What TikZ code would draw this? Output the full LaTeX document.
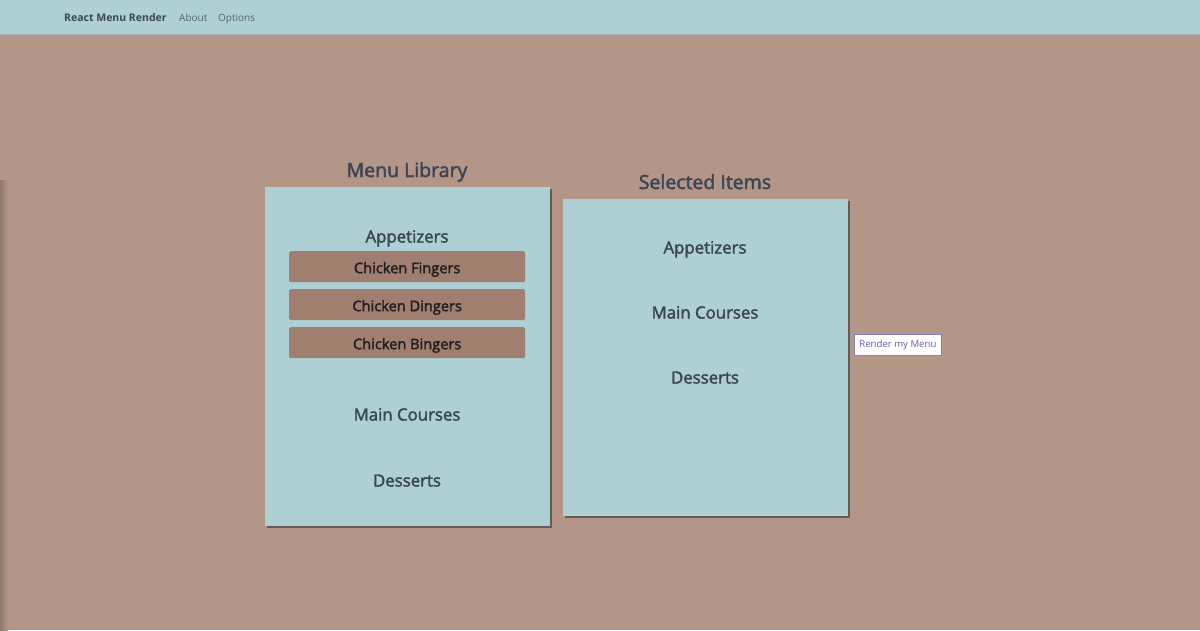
\documentclass[tikz,border=0pt]{standalone}
\usepackage{fontspec}
\setmainfont{Open Sans}
\newfontfamily\semib[FakeBold=2.2]{Open Sans}
\usetikzlibrary{shadows}
\definecolor{bg}{HTML}{B39688}
\definecolor{nav}{HTML}{AED0D5}
\definecolor{navline}{HTML}{A8B4B4}
\definecolor{panel}{HTML}{AED0D5}
\definecolor{item}{HTML}{A07E70}
\definecolor{head}{HTML}{3A4555}
\definecolor{navtext}{HTML}{55616E}
\definecolor{btnborder}{HTML}{8A7FB8}
\definecolor{btntext}{HTML}{6A5BB0}
\begin{document}
\begin{tikzpicture}[x=1pt,y=-1pt,
  panelbox/.style={draw=none,fill=panel,anchor=north west,inner sep=0,
    drop shadow={shadow xshift=2pt,shadow yshift=-2pt,opacity=0.6,fill=black!80}},
  title/.style={text=head,anchor=base,inner sep=0,font=\semib\fontsize{19.5}{22}\selectfont},
  section/.style={text=head,anchor=base,inner sep=0,font=\semib\fontsize{16.8}{19}\selectfont},
  itembox/.style={fill=item,anchor=north west,inner sep=0,minimum width=236pt,minimum height=31pt,rounded corners=1.5pt},
  itemtext/.style={text=black!88,anchor=base,inner sep=0,font=\semib\fontsize{14.6}{17}\selectfont},
  navitem/.style={text=navtext,font=\fontsize{10}{12}\selectfont,anchor=base west,inner sep=0},
]
\useasboundingbox (0,0) rectangle (1200,630);
\fill[bg] (0,0) rectangle (1200,630);
% left edge shadow
\shade[left color=black!20!bg,right color=bg] (0,180) rectangle (8,630);
% navbar
\fill[nav] (0,0) rectangle (1200,34);
\draw[navline,line width=1pt] (0,34.5) -- (1200,34.5);
\node[navitem,text=head,font=\bfseries\fontsize{10.5}{12}\selectfont] (brand) at (64,21) {React Menu Render};
\node[navitem] (about) at (179,21) {About};
\node[navitem] (options) at (218,21) {Options};
% left panel
\node[title] (libtitle) at (407,177) {Menu Library};
\node[panelbox,minimum width=285pt,minimum height=339pt] (lib) at (265,187) {};
\node[section] (lapp) at (407,242.5) {Appetizers};
\node[itembox] (i1) at (289,251) {};
\node[itembox] (i2) at (289,289) {};
\node[itembox] (i3) at (289,327) {};
\node[itemtext] (t1) at ([yshift=-6.5pt]i1.center) {Chicken Fingers};
\node[itemtext] (t2) at ([yshift=-6.5pt]i2.center) {Chicken Dingers};
\node[itemtext] (t3) at ([yshift=-6.5pt]i3.center) {Chicken Bingers};
\node[section] (lmain) at (407,420.5) {Main Courses};
\node[section] (ldes) at (407,486.5) {Desserts};
% right panel
\node[title] (seltitle) at (705,189) {Selected Items};
\node[panelbox,minimum width=285pt,minimum height=317pt] (sel) at (563,199) {};
\node[section] (rapp) at (705,253.5) {Appetizers};
\node[section] (rmain) at (705,318.5) {Main Courses};
\node[section] (rdes) at (705,383.5) {Desserts};
% button
\node[draw=btnborder,fill=white,line width=0.8pt,inner sep=0,minimum width=87pt,minimum height=21pt,
  text=btntext,font=\fontsize{9.6}{11}\selectfont,anchor=north west] (render) at (854,334) {Render my Menu};
\end{tikzpicture}
\end{document}
